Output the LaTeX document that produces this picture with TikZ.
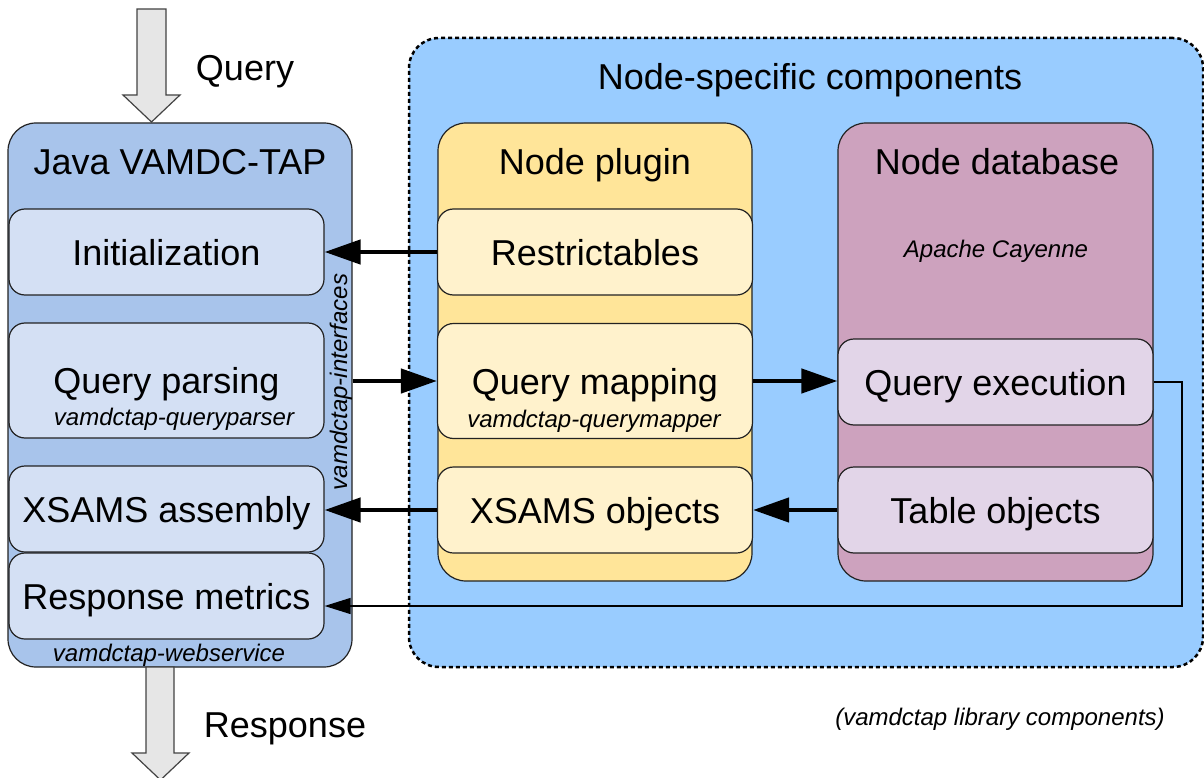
\documentclass[tikz,border=0pt]{standalone}
\usepackage{fontspec}
\setmainfont{Liberation Sans}
\usetikzlibrary{arrows.meta}

\begin{document}
\begin{tikzpicture}[x=1pt,y=1pt,yscale=-1,xscale=1,
  big/.style={font=\fontsize{36}{40}\selectfont},
  small/.style={font=\fontsize{24}{28}\selectfont\itshape},
  frame/.style={draw={rgb, 255:red, 34; green, 34; blue, 34 }, line width=1.2pt, inner sep=0pt},
  group/.style={frame, rounded corners=28pt},
  part/.style={frame, rounded corners=16pt, minimum width=315pt, minimum height=86pt, big, text height=26pt, text depth=0pt},
  title/.style={big, inner sep=0pt, text height=26pt, text depth=0pt},
  bigflow/.style={draw={rgb, 255:red, 67; green, 67; blue, 67 }, line width=1.2pt, fill={rgb, 255:red, 230; green, 230; blue, 230 }},
  thickarrow/.style={line width=4.5pt, -{Triangle[length=36pt,width=24pt]}},
  thinarrow/.style={line width=1.3pt, -{Triangle[length=26pt,width=16pt]}}
]
\useasboundingbox (0,0) rectangle (1204,778);

%Shape: Rounded Rect, dashed group
\node [group, draw=black, dash pattern=on 4pt off 3pt, line width=2.5pt, rounded corners=30pt, fill={rgb, 255:red, 153; green, 204; blue, 255 }, minimum width=794pt, minimum height=629pt] (nodespec) at (806,352.5) {};

%Shape: Rounded Rect
\node [group, fill={rgb, 255:red, 168; green, 196; blue, 235 }, minimum width=344pt, minimum height=544pt] (java) at (180,395) {};
%Shape: Rounded Rect
\node [group, fill={rgb, 255:red, 255; green, 229; blue, 153 }, minimum width=314pt, minimum height=458pt] (plugin) at (595,352) {};
%Shape: Rounded Rect
\node [group, fill={rgb, 255:red, 205; green, 162; blue, 190 }, minimum width=315pt, minimum height=458pt] (database) at (995.5,352) {};

%Java VAMDC-TAP parts
\node [part, fill={rgb, 255:red, 212; green, 224; blue, 244 }] (init) at (166.5,252) {Initialization};
\node [part, fill={rgb, 255:red, 212; green, 224; blue, 244 }, minimum height=115pt] (qpars) at (166.5,380.5) {Query parsing};
\node [part, fill={rgb, 255:red, 212; green, 224; blue, 244 }] (xasm) at (166.5,509) {XSAMS assembly};
\node [part, fill={rgb, 255:red, 212; green, 224; blue, 244 }] (rmet) at (166.5,596) {Response metrics};

%Node plugin parts
\node [part, fill={rgb, 255:red, 255; green, 242; blue, 204 }] (restr) at (595,252) {Restrictables};
\node [part, fill={rgb, 255:red, 255; green, 242; blue, 204 }, minimum height=115pt] (qmap) at (595,381) {Query mapping};
\node [part, fill={rgb, 255:red, 255; green, 242; blue, 204 }] (xobj) at (595,510) {XSAMS objects};

%Node database parts
\node [part, fill={rgb, 255:red, 226; green, 213; blue, 232 }] (qexec) at (995.5,382) {Query execution};
\node [part, fill={rgb, 255:red, 226; green, 213; blue, 232 }] (tobj) at (995.5,510) {Table objects};

%Shape: Arrow, incoming query
\draw [bigflow] (137,9) -- (166,9) -- (166,95) -- (180,95) -- (151.5,122) -- (123,95) -- (137,95) -- cycle ;
%Shape: Arrow, outgoing response
\draw [bigflow] (146,667) -- (174,667) -- (174,753) -- (189,753) -- (160.5,780) -- (132,753) -- (146,753) -- cycle ;

%Straight Lines
\draw [thickarrow] (restr.west) -- (init.east) ;
\draw [thickarrow] (java.east |- qmap.west) -- (qmap.west) ;
\draw [thickarrow] (qmap.east) -- (qexec.west |- qmap.east) ;
\draw [thickarrow] (tobj.west) -- (xobj.east) ;
\draw [thickarrow] (xobj.west) -- (xasm.east |- xobj.west) ;
%Elbow line, query metrics back to the webservice
\coordinate (bend) at (1182,606) ;
\draw [thinarrow] (qexec.east) -| (bend) -- (rmet.east |- bend) ;

% Text Node
\node [title] (javat) at (180,161.5) {Java VAMDC-TAP};
% Text Node
\node [title] (plugint) at (595,161.5) {Node plugin};
% Text Node
\node [title] (databaset) at (997,161.5) {Node database};
% Text Node
\node [title] (nodespect) at (810,77) {Node-specific components};
% Text Node
\node [title] (query) at (245,67.5) {Query};
% Text Node
\node [title] (response) at (285,724.5) {Response};
% Text Node
\node [small, anchor=base, inner sep=0pt] (qparsl) at (174,425) {vamdctap-queryparser};
% Text Node
\node [small, anchor=base, inner sep=0pt] (qmapl) at (594,427) {vamdctap-querymapper};
% Text Node
\node [small, anchor=base, inner sep=0pt] (webl) at (169,661) {vamdctap-webservice};
% Text Node
\node [small, anchor=base, inner sep=0pt, rotate=90] (ifacesl) at (347,382) {vamdctap-interfaces};
% Text Node
\node [small, anchor=base, inner sep=0pt] (cayenne) at (996,257) {Apache Cayenne};
% Text Node
\node [small, anchor=base, inner sep=0pt] (libnote) at (1000,725) {(vamdctap library components)};

\end{tikzpicture}
\end{document}
